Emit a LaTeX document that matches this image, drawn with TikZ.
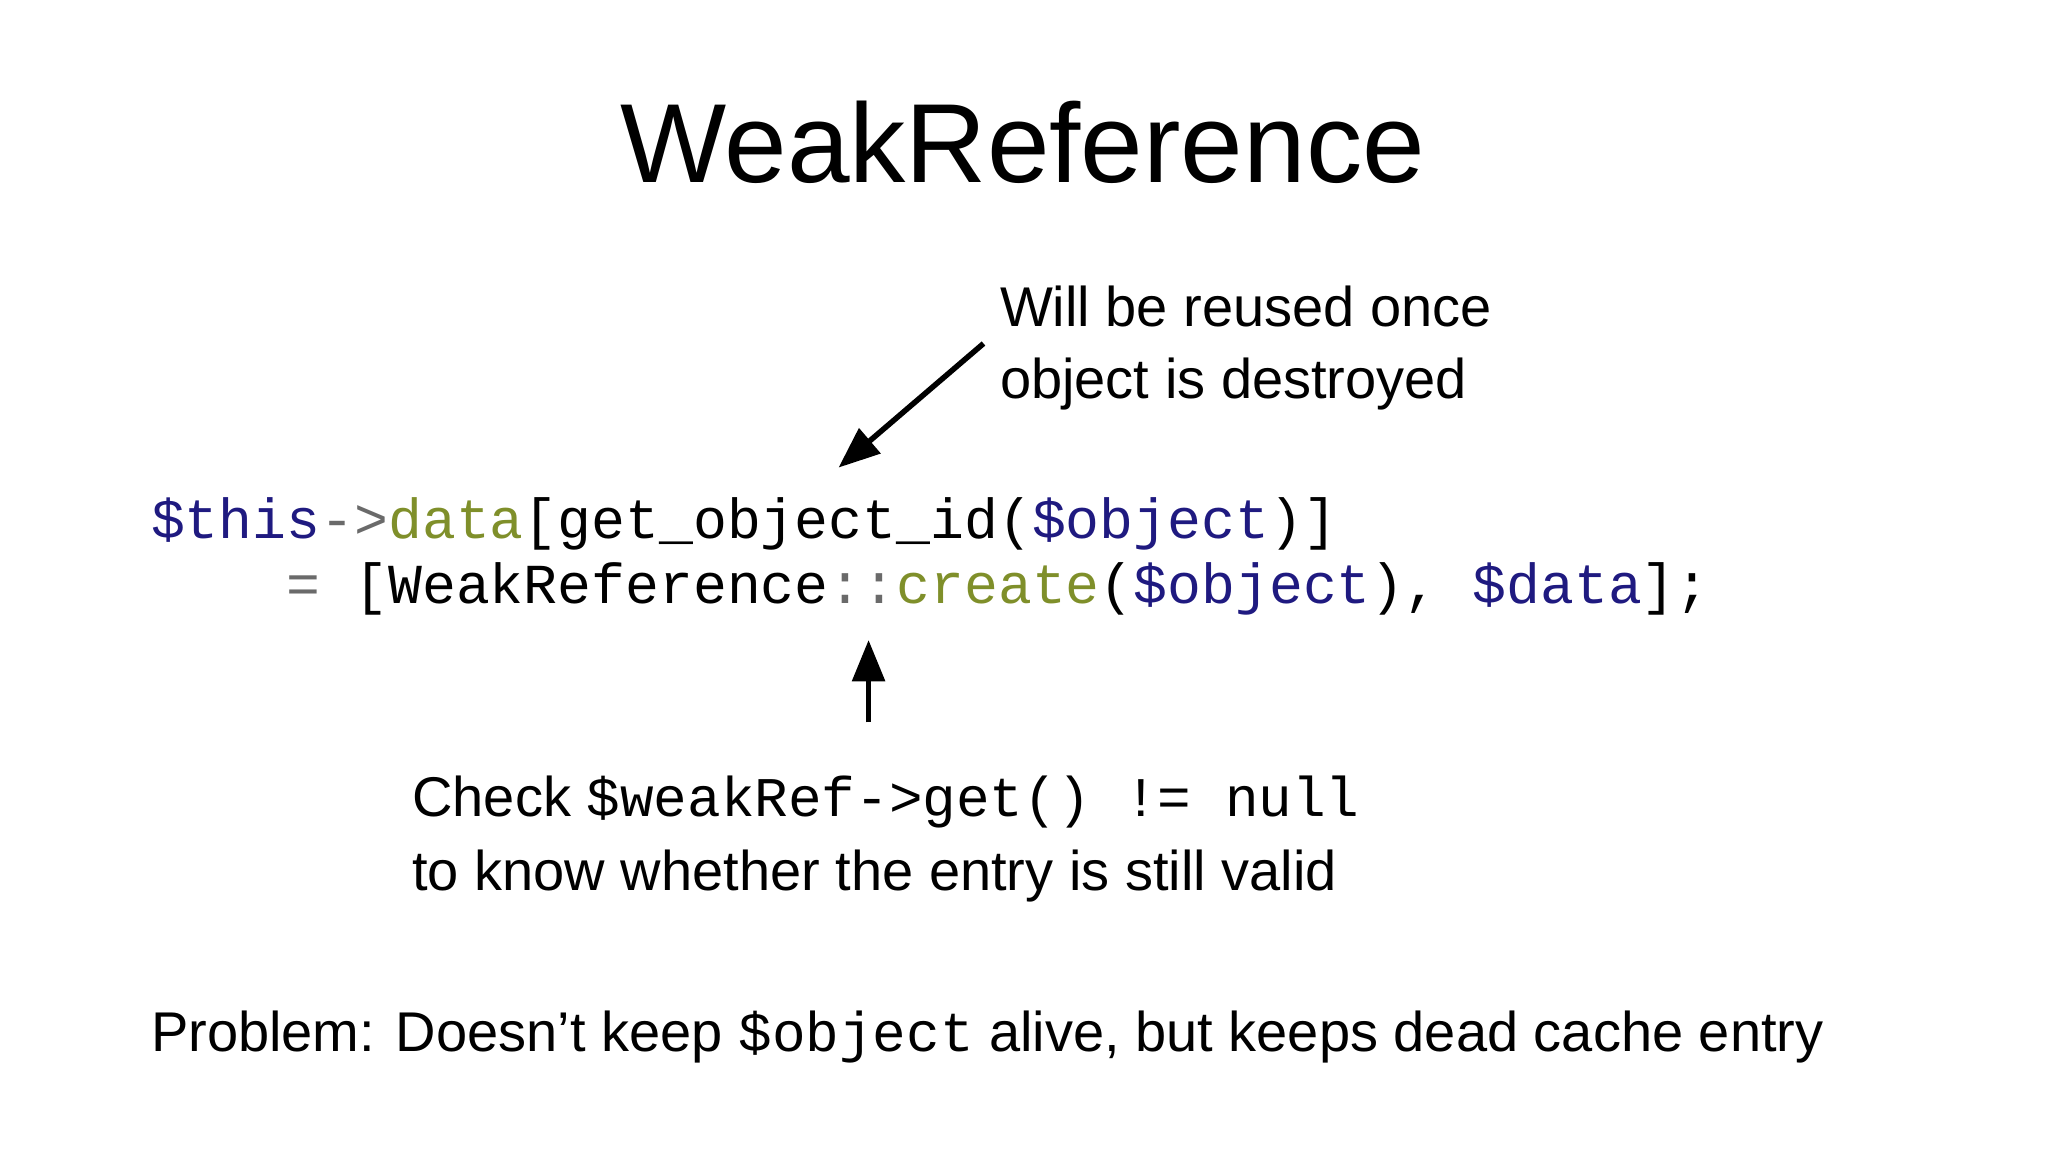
\documentclass[tikz,border=0pt]{standalone}
\usepackage{fontspec}
\setmainfont{Liberation Sans}
\setmonofont{Liberation Mono}
\usetikzlibrary{arrows.meta}
\definecolor{navy}{HTML}{1F1A80}
\definecolor{olive}{HTML}{7F8F2A}
\definecolor{opgray}{HTML}{6A6A6A}
\tikzset{txt/.style={anchor=base west,inner sep=0pt,font=\fontsize{12.2pt}{14pt}\selectfont},
code/.style={anchor=base west,inner sep=0pt,font=\fontsize{12.3pt}{14pt}\selectfont\ttfamily},
arr/.style={line width=1.2pt,-{Triangle[length=9pt,width=7pt]}}}
\begin{document}
\begin{tikzpicture}[x=0.1mm,y=-0.1mm]
\useasboundingbox (0,0) rectangle (1568,882);
\node[anchor=base,inner sep=0pt,font=\fontsize{24.5pt}{28pt}\selectfont] (title) at (783,140) {WeakReference};
\node[code] (l1) at (115,412) {\textcolor{navy}{\$this}\textcolor{opgray}{->}\textcolor{olive}{data}[get\_object\_id(\textcolor{navy}{\$object})]};
\node[code] (l2) at (115,462) {\ \ \ \ \textcolor{opgray}{=} [WeakReference\textcolor{opgray}{::}\textcolor{olive}{create}(\textcolor{navy}{\$object}), \textcolor{navy}{\$data}];};
\node[txt] (w1) at (765,250) {Will be reused once};
\node[txt] (w2) at (765,305) {object is destroyed};
\node[txt] (c1) at (315,625) {Check \texttt{\$weakRef->get() != null}};
\node[txt] (c2) at (315,682) {to know whether the entry is still valid};
\node[txt] (p) at (115,805) {Problem: Doesn’t keep \texttt{\$object} alive, but keeps dead cache entry};
\coordinate (a1s) at (753,263);
\coordinate (a1e) at (642,358);
\coordinate (a2s) at (665,553);
\coordinate (a2e) at (665,490);
\draw[arr] (a1s) -- (a1e);
\draw[arr] (a2s) -- (a2e);
\end{tikzpicture}
\end{document}
